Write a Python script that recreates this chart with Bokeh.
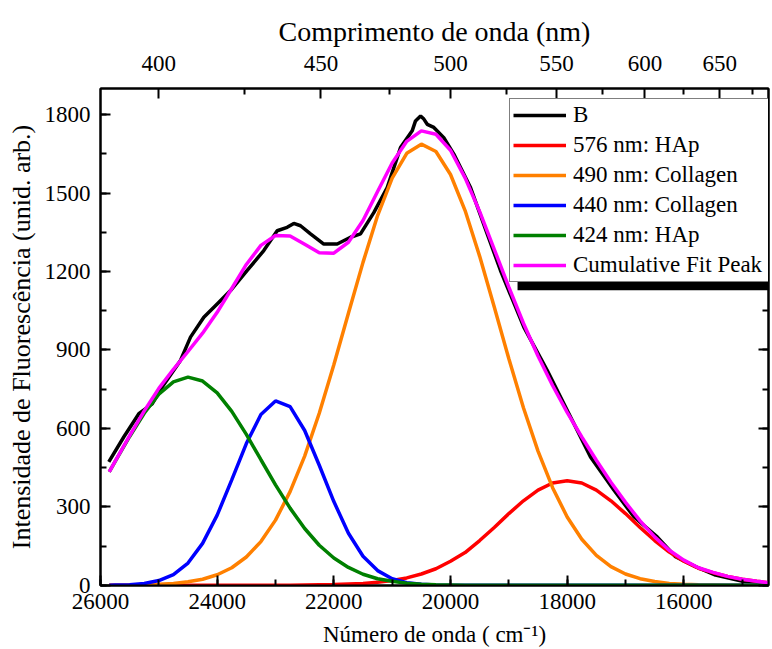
from bokeh.plotting import figure
from bokeh.models import (Range1d, LinearAxis, SingleIntervalTicker, FixedTicker,
                          CustomJSTickFormatter, Legend, LegendItem, BoxAnnotation,
                          CustomLabelingPolicy)
from bokeh.embed import file_html
from bokeh.resources import INLINE

# ---------------- data ----------------
wavenumber = [25850, 25750, 25500, 25250, 25000, 24750, 24500, 24250, 24000, 23750,
              23500, 23250, 23000, 22750, 22500, 22250, 22000, 21750, 21500, 21250,
              21000, 20750, 20500, 20250, 20000, 19750, 19500, 19250, 19000, 18750,
              18500, 18250, 18000, 17750, 17500, 17250, 17000, 16750, 16500, 16250,
              16000, 15750, 15500, 15250, 15000, 14750, 14550]

peak_424_hap = [434, 473, 569, 658, 731, 778, 796, 781, 736, 665,
                577, 480, 384, 295, 217, 153, 104, 68, 42, 25,
                15, 8, 4, 2, 1, 0, 0, 0, 0, 0,
                0, 0, 0, 0, 0, 0, 0, 0, 0, 0,
                0, 0, 0, 0, 0, 0, 0]

peak_440_collagen = [0, 1, 2, 7, 18, 41, 85, 160, 268, 403,
                     542, 653, 705, 683, 592, 459, 320, 199, 111, 56,
                     25, 10, 4, 1, 0, 0, 0, 0, 0, 0,
                     0, 0, 0, 0, 0, 0, 0, 0, 0, 0,
                     0, 0, 0, 0, 0, 0, 0]

peak_490_collagen = [0, 0, 1, 2, 4, 7, 13, 23, 40, 67,
                     108, 167, 249, 358, 494, 658, 843, 1040, 1235, 1414,
                     1557, 1652, 1687, 1659, 1571, 1433, 1258, 1064, 866, 679,
                     513, 373, 261, 176, 114, 71, 43, 25, 14, 7,
                     4, 2, 1, 0, 0, 0, 0]

peak_576_hap = [0, 0, 0, 0, 0, 0, 0, 0, 0, 0,
                0, 0, 0, 0, 1, 2, 3, 5, 7, 11,
                18, 28, 43, 63, 92, 125, 171, 221, 274, 323,
                364, 391, 400, 391, 364, 323, 274, 221, 171, 127,
                92, 65, 48, 34, 23, 15, 10]

cumulative_fit = [434, 474, 572, 667, 753, 826, 894, 964, 1044, 1135,
                  1227, 1300, 1338, 1336, 1304, 1272, 1270, 1312, 1395, 1506,
                  1615, 1698, 1738, 1725, 1664, 1558, 1429, 1285, 1140, 1002,
                  877, 764, 661, 567, 478, 394, 317, 246, 185, 134,
                  96, 67, 49, 34, 23, 15, 10]

b_wavenumber = [25858, 25601, 25343, 25114, 24942, 24629, 24457, 24229, 24000, 23771,
                23485, 23201, 22971, 22800, 22686, 22571, 22400, 22172, 21942, 21714,
                21543, 21315, 21085, 20857, 20657, 20600, 20514, 20457, 20399, 20286,
                20115, 19943, 19657, 19371, 19143, 18743, 18343, 18000, 17600, 17200,
                16857, 16457, 16143, 15800, 15457, 14972, 14571]

b_intensity = [472, 567, 656, 694, 758, 860, 949, 1025, 1076, 1127,
               1204, 1280, 1356, 1369, 1384, 1375, 1344, 1305, 1305, 1331,
               1344, 1425, 1521, 1674, 1738, 1776, 1795, 1783, 1763, 1751,
               1712, 1649, 1521, 1344, 1204, 987, 822, 669, 491, 364,
               262, 185, 109, 71, 39, 14, 8]

top_major_nm = [400, 450, 500, 550, 600, 650]
top_minor_nm = [425, 475, 525, 575, 625, 675]

legend_labels = ["B", "576 nm: HAp", "490 nm: Collagen", "440 nm: Collagen",
                 "424 nm: HAp", "Cumulative Fit Peak"]

x_title = "Número de onda ( cm\u207b\u00b9)"
top_title = "Comprimento de onda (nm)"
y_title = "Intensidade de Fluorescência (unid. arb.)"

# ---------------- figure ----------------
FONT = "Liberation Serif"

p = figure(width=772, height=649, output_backend="svg", toolbar_location=None,
           x_range=Range1d(26000, 14549), y_range=Range1d(-1, 1900),
           min_border_left=100, min_border_right=4, min_border_top=88,
           min_border_bottom=64, title=top_title)
p.title.align = "center"
p.title.text_font = FONT
p.title.text_font_size = "28px"
p.title.text_font_style = "normal"
p.title.text_color = "black"
p.title.standoff = 12

p.xgrid.visible = False
p.ygrid.visible = False
p.outline_line_color = "black"
p.outline_line_width = 2
p.background_fill_color = "white"
p.border_fill_color = "white"

bottom_axis = p.below[0]
left_axis = p.left[0]

bottom_axis.ticker = SingleIntervalTicker(interval=2000, num_minor_ticks=2)
left_axis.ticker = SingleIntervalTicker(interval=300, num_minor_ticks=2)
bottom_axis.axis_label = x_title
left_axis.axis_label = y_title

top_axis = LinearAxis(
    ticker=FixedTicker(ticks=[1e7 / n for n in top_major_nm],
                       minor_ticks=[1e7 / n for n in top_minor_nm]),
    formatter=CustomJSTickFormatter(code="return Math.round(1e7/tick).toString();"))
p.add_layout(top_axis, "above")

right_axis = LinearAxis(
    ticker=SingleIntervalTicker(interval=300, num_minor_ticks=2),
    major_label_policy=CustomLabelingPolicy(
        code="for (const i of Array.from(indices)) { indices.unset(i) } return indices;"),
    major_label_standoff=0)
p.add_layout(right_axis, "right")

for ax in [bottom_axis, left_axis, top_axis, right_axis]:
    ax.axis_line_width = 2
    ax.axis_line_color = "black"
    ax.major_tick_in = 10
    ax.major_tick_out = 0
    ax.minor_tick_in = 6
    ax.minor_tick_out = 0
    ax.major_tick_line_width = 2
    ax.minor_tick_line_width = 2
    ax.major_tick_line_color = "black"
    ax.minor_tick_line_color = "black"
    ax.major_label_text_font = FONT
    ax.major_label_text_color = "black"
    ax.major_label_text_font_size = "23px"
    ax.axis_label_text_font = FONT
    ax.axis_label_text_font_style = "normal"
    ax.axis_label_text_color = "black"

right_axis.major_label_text_font_size = "0px"

bottom_axis.major_label_standoff = 8
bottom_axis.axis_label_text_font_size = "23px"
bottom_axis.axis_label_standoff = 10

top_axis.major_label_standoff = 18

left_axis.major_label_standoff = 10
left_axis.axis_label_text_font_size = "26px"
left_axis.axis_label_standoff = 6

# ---------------- curves ----------------
LW = 3.5
r_b = p.line(b_wavenumber, b_intensity, line_color="black", line_width=LW)
r_576 = p.line(wavenumber, peak_576_hap, line_color="#FF0000", line_width=LW)
r_490 = p.line(wavenumber, peak_490_collagen, line_color="#FF8000", line_width=LW)
r_440 = p.line(wavenumber, peak_440_collagen, line_color="#0000FF", line_width=LW)
r_424 = p.line(wavenumber, peak_424_hap, line_color="#008000", line_width=LW)
r_cum = p.line(wavenumber, cumulative_fit, line_color="#FF00FF", line_width=LW)

# legend shadow
shadow = BoxAnnotation(left=18851, right=14549, bottom=1128, top=1824,
                       fill_color="black", fill_alpha=1.0, line_color=None,
                       level="annotation")
p.add_layout(shadow)

renderers = [r_b, r_576, r_490, r_440, r_424, r_cum]
legend = Legend(items=[LegendItem(label=lab, renderers=[r])
                       for lab, r in zip(legend_labels, renderers)],
                location=(409, 303))
legend.label_text_font = FONT
legend.label_text_font_size = "23px"
legend.label_text_color = "black"
legend.glyph_width = 53
legend.glyph_height = 26
legend.label_height = 26
legend.label_width = 195
legend.label_standoff = 7
legend.spacing = 4
legend.padding = 3
legend.margin = 0
legend.border_line_color = "black"
legend.border_line_width = 1
legend.background_fill_color = "white"
legend.background_fill_alpha = 1.0
p.add_layout(legend)

open("out.html", "w").write(file_html(p, INLINE))
